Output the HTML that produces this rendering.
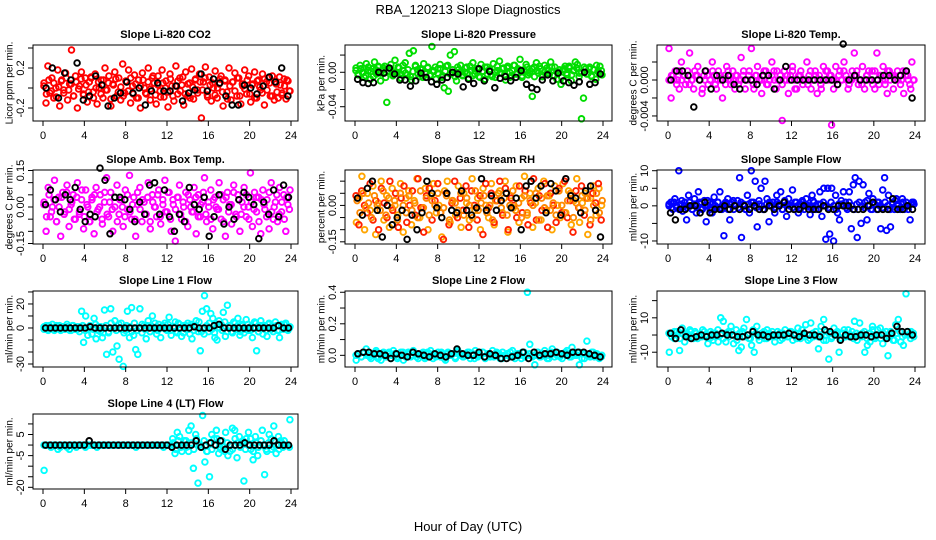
<!DOCTYPE html>
<html><head><meta charset="utf-8"><style>
html,body{margin:0;padding:0;background:#fff}
svg{display:block;font-family:"Liberation Sans",sans-serif}
</style></head><body>
<svg id="chart" width="936" height="540" viewBox="0 0 936 540" xmlns="http://www.w3.org/2000/svg">
<rect width="936" height="540" fill="#fff"/>
<text x="468" y="14" text-anchor="middle" font-size="13">RBA_120213  Slope Diagnostics</text>
<text x="468" y="531" text-anchor="middle" font-size="13">Hour of Day (UTC)</text>
</svg>
<script>
const hourTicks=[0,4,8,12,16,20,24];
// CO2 (Licor ppm per min)
const co2Colored=[0.05,-0.15,0.22,-0.05,0.1,-0.1,0.0,0.18,-0.18,0.08,-0.02,0.15,-0.12,0.04,0.38,-0.08,0.12,-0.2,0.02,0.16,-0.06,0.1,-0.14,0.06,0.1,-0.04,0.14,-0.16,0.0,0.08,-0.1,0.2,-0.02,0.12,-0.18,0.04,0.16,-0.08,0.1,-0.12,0.24,-0.05,0.06,0.18,-0.15,0.02,0.13,-0.1,0.08,-0.2,0.15,0.0,-0.06,0.2,-0.12,0.1,0.05,-0.16,0.12,-0.03,0.18,-0.09,0.07,-0.19,0.14,0.02,-0.13,0.22,-0.06,0.1,0.03,-0.17,0.16,-0.08,0.05,0.19,-0.11,0.09,-0.02,0.14,-0.3,0.06,0.21,-0.07,0.11,-0.13,0.0,0.17,-0.1,0.04,0.12,-0.18,0.08,-0.04,0.2,-0.12,0.06,0.15,-0.08,0.1,-0.16,0.02,0.18,-0.06,0.12,-0.14,0.04,0.16,-0.1,0.08,-0.02,0.14,-0.17,0.06,0.1,-0.08,0.12,-0.12,0.04,-0.1,0.03,-0.05,0.09,-0.11,0.07,-0.03];
const co2Core=[0.02,-0.06,0.08,-0.03,0.05,-0.09,0.01,0.07,-0.05,0.1,-0.02,0.04,-0.08,0.06,-0.01,0.09,-0.07,0.03,-0.04,0.11,-0.1,0.0,0.06,-0.06,0.08,-0.02,0.05,-0.11,0.03,0.09,-0.04,0.01,-0.08,0.07,-0.03,0.1,-0.06,0.04,-0.1,0.02,0.08,-0.05,0.06,-0.01,0.12,-0.07,0.03,-0.09,0.05,0.0,-0.04,0.09,-0.08,0.02,0.07,-0.03,0.11,-0.06,0.04,-0.1,0.01,0.08,-0.05,0.06,-0.02,0.1,-0.09,0.03,0.05,-0.07,0.0,0.09,-0.04,0.07,-0.11,0.02,0.06,-0.03,0.1,-0.08,0.04,-0.01,0.08,-0.06,0.03,-0.1,0.07,0.01,-0.05,0.09,-0.02,0.05,-0.08,0.06,-0.04,0.11,-0.07,0.02,0.08,-0.03];
const co2Black=[0.0,0.2,-0.1,0.15,0.08,0.25,-0.12,-0.08,0.12,0.03,-0.18,-0.1,-0.05,0.06,-0.05,0.0,-0.17,-0.03,0.05,-0.03,-0.03,0.02,-0.13,-0.05,-0.02,0.14,-0.03,0.09,0.05,-0.08,-0.17,-0.17,0.03,0.0,-0.06,0.02,0.11,0.06,0.2,-0.08];
// Pressure (milli kPa per min)
const pressColored=[5,-3,8,0,-6,10,2,-8,4,12,-2,6,-10,3,7,-35,1,9,-4,14,-1,5,-7,2,11,-3,22,-9,25,8,3,-5,3,10,-2,6,-4,30,1,-8,4,9,-6,-18,7,-22,20,-1,24,-10,3,8,-4,0,6,-7,2,11,-2,4,-5,9,1,-8,6,3,-3,10,-6,2,13,-1,5,-9,7,0,-4,8,-2,4,15,-6,3,9,-3,1,-28,6,11,-1,4,-5,8,-2,2,12,-4,6,-8,0,-14,3,7,-3,5,-10,2,12,9,-1,-54,-30,4,-2,6,-5,3,-8,1,7,-3];
const pressCore=[2,-2,4,0,-4,6,1,-5,3,7,-1,5,-6,2,4,-3,0,6,-2,8,-1,3,-5,1,7,-2,4,-6,0,5,-3,2,6,-1,4,-4,1,8,-2,3,-5,6,0,-3,5,-1,7,-4,2,4,-6,1,6,-2,3,-5,0,7,-1,4,-3,5,-6,2,8,-2,3,-4,1,6,-1,4,-5,2,7,-3,0,5,-2,6,-4,1,3,-6,4,-1,7,-3,2,5,-5,0,6,-2,4,-4,3,8,-1,2];
const pressBlack=[-8,-12,-13,-12,0,-1,5,-2,-9,-9,-16,-10,-1,-6,-11,-14,-9,-6,0,-2,-17,-8,-13,4,-10,1,-18,-7,-5,-10,-6,2,-14,-18,-20,-9,-3,-10,-1,-10,-12,-15,-11,0,-14,-12,-2];
// Li-820 temperature (milli degC per min)
const tempColored=[3.5,-2,0.5,1,0,-1,2,0.5,-0.5,1,3,0,-1,0.5,1.5,0,-1.5,0.5,1,-0.5,0,2,0.5,-1,1,0,-2,0.5,1.5,0,-0.5,1,-1,0.5,0,2.5,0.5,-1,0,1,3.5,-0.5,0.5,1.5,0,-1.5,0.5,1,-0.5,0,2,1,-1,0,0.5,-4.5,1,0,-1.5,0.5,1.5,0,-1,0.5,1,-0.5,0,2,0.5,-1,0,1,-1.5,0.5,-1,1.5,0,1,0.5,-5,0,1.5,-0.5,1,0,2,0.5,-1,0,1,3,0.5,-0.5,0,1.5,-1,0.5,1,0,-0.5,1,3,-0.5,0.5,1.5,0,-1.5,1,0.5,-1,0,1,0.5,0,-1.5,1,0.5,-0.5,2,0];
const tempCore=[0,0.5,0,-0.5,1,0,0.5,0,-0.5,0,1,0.5,0,-1,0,0.5,0,1,-0.5,0,0.5,0,-0.5,1,0,0,0.5,-0.5,0,1,0,0.5,0,-1,0.5,0,0,1,-0.5,0,0.5,0,1,0,-0.5,0,0.5,0,1,-1,0,0.5,0,0,-0.5,1,0,0.5,0,-0.5,0,1,0,0.5,-1,0,0.5,0,1,0,-0.5,0,0.5,1,0,-0.5,0,0.5,0,1,-1,0,0.5,0,-0.5,1,0,0.5,0,0,-0.5,1,0.5,0,-1,0];
const tempBlack=[0,1,1,0.5,-3,0,1,-1,0.5,0,0.5,-0.5,-1,0,0,-0.5,0.5,0.5,-1,0,1.5,0,0,0,0,0,0,0,0,-0.5,4,0,0.5,0,0,0,0,0.5,0.5,0,0.5,1,-2];
// Ambient box temperature (centi degC per min)
const ambColored=[2,-10,8,-4,0,11,-6,4,-12,6,-2,9,-8,1,5,-5,10,-3,3,-9,7,0,-6,4,-11,8,-1,5,-7,2,12,-4,6,-10,0,9,-3,3,-8,7,-1,13,-5,4,-12,1,8,-6,2,-3,10,-9,5,0,-4,7,-7,3,11,-2,6,-10,1,-14,4,9,-5,0,6,-8,3,-2,8,-11,5,-4,2,12,-6,0,7,-9,4,-1,10,-5,3,-12,6,1,-7,9,-3,5,-10,2,8,-4,0,14,-8,6,-2,4,-11,7,-1,3,-9,10,-5,2,-6,8,-2,5,-10,1,7];
const ambCore=[1,-4,5,-2,3,-6,0,4,-3,6,-1,2,-5,4,-2,7,-4,1,-6,3,5,-2,0,-5,6,-3,2,-1,4,-6,3,0,-4,5,-2,1,-5,6,-1,3,-3,4,-6,2,0,5,-4,1,-2,6,-5,3,-1,4,-3,2,-6,5,0,-2,4,-4,1,6,-3,2,-5,3,0,-1,5,-6,4,-2,1,6,-4,3,-3,0,5,-5,2,-1,4,-6,3,1,-4,6,-2,0,5,-3,2,-5,4,-1];
const ambBlack=[1,7,3,-2,5,3,8,-1,-6,-3,-4,16,11,-11,4,4,3,-1,-6,2,-3,9,10,-3,7,-4,-10,-3,-6,8,1,-1,4,-12,-4,5,-7,0,-5,3,6,4,1,-13,2,-3,7,-4,9,4];
// Gas stream RH (centi percent per min)
const rhOrange=[-7,3,12,-10,5,-2,8,-12,1,10,-6,4,-9,7,0,-4,9,-11,3,6,-8,2,11,-5,-1,7,-10,4,9,-3,0,-13,6,10,-7,2,-4,8,-9,5,1,-6,11,-2,3,-10,7,0,-5,9,-8,2,6,-3,10,-11,4,-1,8,-7,3,12,-4,5,-9,1,7,-6,10,-2,4,-10,8,0,-5,9,-3,6,-8,2,11,-7,1,5,-12,3,8,-4,7,0];
const rhRed=[4,-8,6,0,-3,9,-6,2,-10,7,1,-5,10,-2,5,-9,3,8,-7,0,6,-4,11,-1,-11,4,7,-6,2,9,-3,-14,5,-8,1,10,-5,3,-2,8,-9,6,0,-6,4,-12,9,-1,5,-7,2,10,-4,7,-10,3,0,-5,8,-3,6,-8,1,11,-6,4,-2,9,-9,5,0,-7,7,-3,10,-5,2,-11,6,-1,8,-4,3,-8,5,1,9,-6];
const rhCore=[2,-3,5,-1,1,-5,4,0,-2,6,-4,3,-1,2,-6,5,0,-3,4,-2,1,-5,6,-1,3,-4,2,0,5,-3,-1,4,-6,2,1,-2,5,-4,3,0,-5,6,-2,1,4,-3,0,-6,2,5,-1,3,-4,0,6,-2,1,-5,4,-3,2,0,5,-6,3,-1,4,-2,1,-4,6,0,-3,2,5,-5,1,-1,4,-2,3,-6,0,5,-3,2];
const rhBlack=[3,-4,7,10,-2,-13,0,-8,-5,-2,-14,-4,-10,-3,10,5,-1,-5,5,-2,-3,6,-2,-4,-1,11,-2,4,-2,2,5,-1,3,-10,8,10,3,8,-3,9,6,-4,11,4,3,-3,6,8,-2,-13];
// Sample flow (ml/min per min)
const sampleColored=[0,1,-1,2,-0.5,10,0.5,-1.5,1,-4,3,0,-1,2,-2,4,0.5,-1,1.5,-4.5,0,1,-2,2.5,-0.5,1,4,-1,-8.5,0.5,2,-4,1,-1,0,1.5,8,-9,0.5,-1,3,-2,10,1,7,-6,0.5,5,-1,7,2,-4.5,0,1,-2,3,0.5,4,-1,1,-3,2,0,4.5,-1,1,-2,0.5,1.5,-1,2,0,-2.5,3,1,-1,0.5,4,-3,5,-9.5,5,-8,5,-10,3,-2,-4,0.5,4,1,-1,4,-6.5,6,8,-9,7,-5,6,1,-4,3.5,-1,2,0.5,-1,1,-6.5,4.5,8,-7,3,-6,1,-1,2,0.5,-1,2,-1,1,0,-4,1,0.5];
const sampleCore=[0.5,-0.5,1,0,-1,1.5,0,-0.5,1,-1,0.5,0,1,-0.5,0,1.5,-1,0.5,0,1,-0.5,0,1,-1,0.5,1.5,0,-0.5,1,0,-1,0.5,1,0,-0.5,1.5,0,-1,0.5,1,0,-0.5,1,0,-1,1.5,0.5,0,-0.5,1,0,-1,1,0.5,0,-0.5,1.5,0,-1,0.5,1,0,-0.5,1,0,-1,0.5,1.5,0,-0.5,1,0,-1,0.5,1,0,-0.5,1.5,0,-1,0.5,1,0,-0.5,1,0,-1,0.5,1.5,0,-0.5,1,0,-1,0.5,1];
const sampleBlack=[-2,-4,-1,-1,0,0,-2,1,-2,-1,-1,0,-1,0,-1,0,-1,0,-1,-1,0,-1,0,1,-1,-1,-1,0,-1,-1,-1,0,-1,-1,0,0,0,-1,-1,-1,0,1,-1,-1,-1,2,-1,-1,0,-1];
// Line 1 flow
const line1Colored=[-1,2,-2,1,3,-1,2,0,-2,1,-1,3,0,-2,2,-1,1,-3,14,-12,10,-6,2,-5,8,-9,1,-3,-8,15,-22,-4,16,-20,6,-15,-26,4,-32,-2,14,-8,17,-6,-18,-22,16,-4,2,-9,6,-3,10,-1,-5,3,-8,2,4,-2,9,-6,1,5,-4,3,-7,2,-1,4,-5,-9,2,6,-3,-19,14,27,16,-3,12,8,-8,-10,6,3,13,-7,19,2,-3,5,-1,8,-6,3,-4,7,-2,1,-8,5,-19,-3,6,-5,2,-7,4,1,-3,5,-2,-8,3,-1,4,-2,1];
const line1Core=[1,-1,2,0,-2,1,2,-1,0,1,-2,2,0,-1,1,2,-2,0,1,-1,3,-2,1,-4,2,-3,4,0,-2,3,-1,-4,2,1,-3,4,-2,0,3,-1,2,-3,1,4,-2,0,2,-1,3,-2,1,-3,4,0,-4,2,-1,3,-2,1,5,-3,-5,2,4,-1,-4,3,0,-2,5,-3,2,-4,4,1,-3,2,-1,3,-2,0,4,-3,2,1,-2,3,-1,0,2,-2,1,3,-1,0];
const line1Black=[0,0,0,0,0,0,0,0,0,1,0,0,0,0,0,0,0,0,0,0,0,0,0,0,0,0,0,0,0,0,1,0,0,0,2,3,0,0,0,0,0,0,0,0,0,0,0,2,0,0];
// Line 2 flow
const line2Colored=[-0.03,0.01,-0.01,0.02,0.04,0.0,-0.02,0.01,0.03,-0.01,-0.03,0.02,0.0,0.01,-0.02,0.03,0.01,-0.01,0.02,-0.03,0.0,0.02,-0.01,0.03,0.01,-0.02,0.0,0.02,-0.01,0.01,0.03,-0.02,0.0,0.02,-0.01,0.01,-0.03,0.02,0.0,0.01,-0.02,0.03,0.01,-0.01,0.0,0.02,-0.02,0.01,0.03,-0.01,0.0,0.02,-0.02,0.01,-0.01,0.03,0.0,0.01,-0.02,0.02,0.0,0.01,-0.01,0.03,-0.02,0.01,0.0,0.02,-0.01,0.4,0.07,0.0,-0.06,0.02,-0.01,0.01,0.03,-0.02,0.0,0.04,-0.01,0.02,0.0,-0.02,0.01,0.03,-0.01,0.05,0.0,0.02,-0.06,0.01,-0.02,0.09,0.0,0.02,-0.01,0.01,-0.02,0.0];
const line2Core=[0.0,0.01,-0.01,0.02,0.0,-0.01,0.01,0.02,-0.02,0.0,0.01,-0.01,0.02,0.0,0.01,-0.02,0.0,0.02,-0.01,0.01,0.0,0.02,-0.01,0.0,0.01,-0.02,0.02,0.0,0.01,-0.01,0.0,0.02,-0.02,0.01,0.0,0.01,-0.01,0.02,0.0,-0.01,0.01,0.02,0.0,-0.02,0.01,0.0,0.02,-0.01,0.01,0.0,-0.01,0.02,0.01,-0.02,0.0,0.01,0.02,-0.01,0.0,0.01,-0.02,0.02,0.0,0.01,-0.01,0.0,0.02,-0.01,0.01,0.0,-0.02,0.02,0.01,0.0,-0.01,0.01,0.02,0.0,-0.01,0.01,0.0,0.02,-0.02,0.01,0.0,-0.01,0.02,0.01,0.0,-0.01];
const line2Black=[0.01,0.02,0.02,0.01,0.01,0.0,-0.02,0.01,0.0,-0.01,0.02,0.01,0.0,-0.01,0.01,0.0,-0.01,0.01,0.04,0.01,0.0,0.0,0.02,-0.01,0.01,0.0,-0.02,-0.02,-0.01,0.0,0.02,-0.02,0.02,0.0,0.01,0.01,0.02,0.01,0.0,0.02,0.02,0.02,0.01,0.0,-0.01];
// Line 3 flow
const line3Colored=[-10,1,-2,2,-9,4,-4,1,3,-1,2,-2,0,3,-1,-5,2,-3,1,-4,10,8,-4,2,5,-5,3,-9,-7,4,9,-2,-6,-10,5,-3,1,-2,3,-1,2,-4,0,1,-2,3,-1,2,-3,1,4,-2,0,6,-3,7,-1,2,-8,5,9,-3,-14,-2,4,1,-10,-2,3,0,-1,2,8,-3,7,1,-10,-6,-4,5,-2,3,4,-5,-1,-12,2,-3,6,9,-4,-6,24,0,2,-1];
const line3Core=[1,-1,2,0,-2,1,0,-1,2,-2,1,0,-1,2,0,-2,1,-1,3,0,-2,1,-1,2,0,-3,1,2,-1,0,-2,3,1,-1,0,2,-2,1,0,-1,2,-3,1,0,-1,2,0,-2,1,3,-1,0,-2,1,2,-1,0,-3,2,1,-1,0,2,-2,1,-1,3,0,-2,1,0,-1,2,-2,1,3,-1,0,-2,1,2,-1,0,-3,1,2,-1,0,2,-2,1];
const line3Black=[1,-2,3,-1,-2,-1,0,-1,0,0,1,0,0,-1,-1,0,2,0,0,-1,0,0,0,1,0,-1,1,0,0,-1,3,2,0,-3,0,-1,-1,0,0,-1,0,0,-2,1,5,2,2,0];
// Line 4 (LT) flow
const line4Colored=[-12,0,0,-1,0,0,-2,-1,0,0,-1,-2,0,0,-1,0,0,0,-1,0,0,0,0,-1,0,0,0,0,0,0,0,0,0,0,0,0,0,0,0,0,-1,0,0,0,0,0,0,0,0,0,0,0,-1,0,0,0,3,-4,6,4,-3,2,-1,7,9,-11,5,-18,0,14,-8,-3,-15,5,3,7,-4,-2,-1,6,-5,-3,8,7,-6,4,1,-17,3,6,-2,-7,4,-5,0,7,-14,-3,5,-2,9,-4,4,2,-1,0,0,12];
const line4Core=[0,0,0,0,0,0,0,0,0,0,0,0,0,0,0,0,0,0,0,0,0,0,0,0,0,0,0,0,0,0,0,0,0,0,0,0,0,0,0,0,0,0,0,0,0,0,0,0,0,0,1,-2,2,-1,0,2,-3,1,-2,3,0,-1,2,-3,1,-2,0,3,-1,2,-3,1,0,-2,3,1,-1,2,-2,0,3,-3,1,-1,2,0,-2,1,3,-1,0,-2,1,2,0,-1];
const line4Black=[0,0,0,0,0,0,0,0,0,2,0,0,0,0,0,0,0,0,0,0,0,0,0,0,0,0,-1,0,0,0,0,2,-1,0,1,0,2,-2,0,0,0,1,0,0,0,0,0,2,0,0,0];

const svg=document.getElementById('chart');
const NS='http://www.w3.org/2000/svg';
function el(tag,attrs,parent){const e=document.createElementNS(NS,tag);for(const k in attrs)e.setAttribute(k,attrs[k]);(parent||svg).appendChild(e);return e;}

const cols=[{l:33,r:298,x0:43,x24:291,yt:10},{l:345,r:612,x0:355,x24:603,yt:322},{l:657,r:925,x0:668,x24:915,yt:634}];
const rows=[{t:45,b:121},{t:170,b:244},{t:291,b:367},{t:414,b:489}];

const panels=[
 {name:'co2',title:'Slope Li-820 CO2',yl:'Licor ppm per min.',c:0,r:0,ymin:-0.33,ymax:0.43,ticks:[-0.2,0,0.2,0.4],labels:['-0.2','','0.2',''],series:[[co2Colored,'#ff0000'],[co2Core,'#ff0000'],[co2Black,'#000']]},
 {name:'pressure',title:'Slope Li-820 Pressure',yl:'kPa per min.',c:1,r:0,ymin:-56.6,ymax:31.7,ticks:[-40,-20,0,20],labels:['-0.04','','0.00',''],series:[[pressColored,'#00dd00'],[pressCore,'#00dd00'],[pressBlack,'#000']]},
 {name:'li820-temp',title:'Slope Li-820 Temp.',yl:'degrees C per min.',c:2,r:0,ymin:-4.56,ymax:3.89,ticks:[-4,-2,0,2],labels:['-0.004','','0.000',''],series:[[tempColored,'#ff00ff'],[tempCore,'#ff00ff'],[tempBlack,'#000']]},
 {name:'amb-box-temp',title:'Slope Amb. Box Temp.',yl:'degrees C per min.',c:0,r:1,ymin:-15.2,ymax:15.2,ticks:[-15,-10,-5,0,5,10,15],labels:['-0.15','','','0.00','','','0.15'],series:[[ambColored,'#ff00ff'],[ambCore,'#ff00ff'],[ambBlack,'#000']]},
 {name:'gas-stream-rh',title:'Slope Gas Stream RH',yl:'percent per min.',c:1,r:1,ymin:-15.9,ymax:14.6,ticks:[-15,-10,-5,0,5,10,15],labels:['-0.15','','','0.00','','','0.15'],series:[[rhOrange,'#ffa500'],[rhRed,'#ff2000'],[rhCore,'#ff8800'],[rhBlack,'#000']]},
 {name:'sample-flow',title:'Slope Sample Flow',yl:'ml/min per min.',c:2,r:1,ymin:-10.86,ymax:10.2,ticks:[-10,-5,0,5,10],labels:['-10','','0','5','10'],series:[[sampleColored,'#0000ff'],[sampleCore,'#0000ff'],[sampleBlack,'#000']]},
 {name:'line1-flow',title:'Slope Line 1 Flow',yl:'ml/min per min.',c:0,r:2,ymin:-32.5,ymax:30.8,ticks:[-30,-20,-10,0,10,20,30],labels:['-30','','','0','','20',''],series:[[line1Colored,'#00ffff'],[line1Core,'#00ffff'],[line1Black,'#000']]},
 {name:'line2-flow',title:'Slope Line 2 Flow',yl:'ml/min per min.',c:1,r:2,ymin:-0.074,ymax:0.408,ticks:[0,0.1,0.2,0.3,0.4],labels:['0.0','','0.2','','0.4'],series:[[line2Colored,'#00ffff'],[line2Core,'#00ffff'],[line2Black,'#000']]},
 {name:'line3-flow',title:'Slope Line 3 Flow',yl:'ml/min per min.',c:2,r:2,ymin:-18.6,ymax:25.6,ticks:[-10,0,10,20],labels:['-10','','10',''],series:[[line3Colored,'#00ffff'],[line3Core,'#00ffff'],[line3Black,'#000']]},
 {name:'line4-flow',title:'Slope Line 4 (LT) Flow',yl:'ml/min per min.',c:0,r:3,ymin:-20.8,ymax:14.7,ticks:[-20,-15,-10,-5,0,5,10,15],labels:['-20','','','-5','','5','','15'],series:[[line4Colored,'#00ffff'],[line4Core,'#00ffff'],[line4Black,'#000']]}
];

panels.forEach(p=>{
 const C=cols[p.c],R=rows[p.r];
 const g=el('g',{});
 
 
 const xs=h=>C.x0+(C.x24-C.x0)*h/24;
 const ys=v=>R.b-(R.b-R.t)*(v-p.ymin)/(p.ymax-p.ymin);
 const t=el('text',{x:(C.l+C.r)/2,y:R.t-7,'text-anchor':'middle','font-size':'11','font-weight':'bold'},g);
 t.textContent=p.title;
 
 
 const yl=el('text',{x:C.yt,y:(R.t+R.b)/2,'text-anchor':'middle','font-size':'10',transform:`rotate(-90 ${C.yt} ${(R.t+R.b)/2})`,'dominant-baseline':'middle'},g);
 yl.textContent=p.yl;
 
 
 const pts=el('g',{fill:'none','stroke-width':'1.9'},g);
 
 
 p.series.forEach((s,si)=>{
  const arr=s[0],n=arr.length;
  const off=si===1?0.37:(si===2&&p.series.length===4?0.73:0.5);
  arr.forEach((v,i)=>{
   const h=(i+off)*24/n;
   const c=el('circle',{cx:xs(h).toFixed(1),cy:ys(v).toFixed(1),r:'2.8',stroke:s[1]},pts);
   
   
  });
 });
 const box=el('rect',{x:C.l,y:R.t,width:C.r-C.l,height:R.b-R.t,fill:'none',stroke:'#000','stroke-width':'1'},g);
 
 
 const xa=el('g',{},g);
 
 
 el('line',{x1:xs(0),x2:xs(24),y1:R.b,y2:R.b,stroke:'#000'},xa);
 hourTicks.forEach(h=>{
  el('line',{x1:xs(h),x2:xs(h),y1:R.b,y2:R.b+5,stroke:'#000'},xa);
  const tx=el('text',{x:xs(h),y:R.b+18,'text-anchor':'middle','font-size':'11'},xa);
  tx.textContent=h;
  
  
 });
 const ya=el('g',{},g);
 
 
 const tv=p.ticks.filter(v=>v>=p.ymin&&v<=p.ymax);
 el('line',{x1:C.l,x2:C.l,y1:ys(Math.min(...tv)),y2:ys(Math.max(...tv)),stroke:'#000'},ya);
 p.ticks.forEach((v,i)=>{
  if(v<p.ymin||v>p.ymax)return;
  const y=ys(v);
  el('line',{x1:C.l-5,x2:C.l,y1:y,y2:y,stroke:'#000'},ya);
  if(p.labels[i]){
   const lx=C.l-9;
   const tx=el('text',{x:lx,y:y,'text-anchor':'middle','font-size':'11',transform:`rotate(-90 ${lx} ${y})`},ya);
   tx.textContent=p.labels[i];
   
   
  }
 });
});
</script>
</body></html>
